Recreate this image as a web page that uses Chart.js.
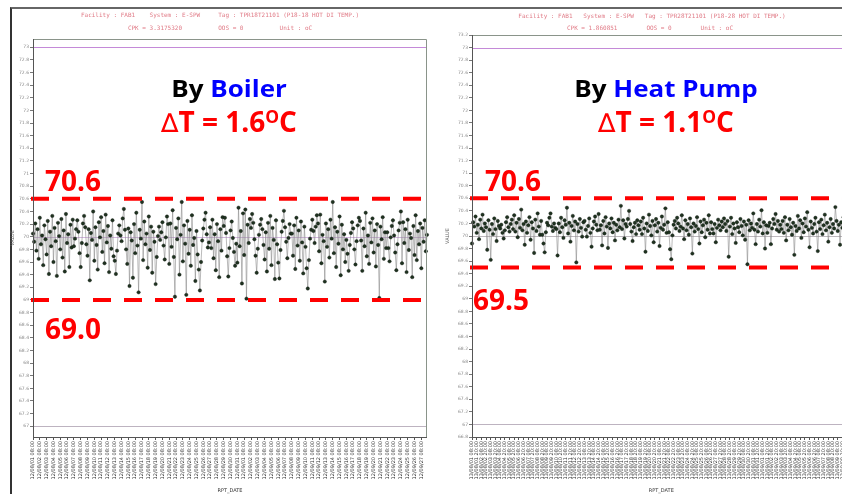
<!DOCTYPE html>
<html>
<head>
<meta charset="utf-8">
<script src="https://cdn.jsdelivr.net/npm/chart.js@4/dist/chart.umd.min.js"></script>
<style>
  html, body { margin: 0; padding: 0; background: #fff; }
  body { width: 842px; height: 494px; overflow: hidden; position: relative; font-family: "Open Sans", "Lato", sans-serif; }
  .frame { position: absolute; left: 10px; top: 7px; width: 840px; height: 490px; border-top: 2px solid #666; border-left: 2px solid #333; }
  canvas { position: absolute; }
  .hdr { position: absolute; font-family: "DejaVu Sans Mono", monospace; font-size: 6px; color: #e07a86; white-space: pre; text-align: center; width: 360px; line-height: 1; }
  .big { position: absolute; font-weight: 700; line-height: 1; text-align: center; width: 300px; white-space: nowrap; }
  .by { font-size: 23px; transform: scaleX(1.13); transform-origin: 150px 0; }
  .dt { font-size: 28px; color: #ff0000; }
  .tri { font-weight: 400; font-family: "DejaVu Sans", sans-serif; font-size: 26px; }
  .lim { position: absolute; font-weight: 700; font-size: 28px; line-height: 1; color: #ff0000; white-space: nowrap; }
  sup { font-size: 62%; vertical-align: 0.5em; line-height: 0; }
</style>
</head>
<body>
<div class="frame"></div>
<canvas id="left" width="425" height="486" style="left:10px; top:8px; width:425px; height:486px;"></canvas>
<canvas id="right" width="410" height="486" style="left:445px; top:8px; width:410px; height:486px;"></canvas>

<div class="hdr" style="left:40px; top:12px;">Facility : FAB1    System : E-SPW     Tag : TPR18T21101 (P18-18 HOT DI TEMP.)</div>
<div class="hdr" style="left:40px; top:25px;">CPK = 3.3175320          OOS = 0          Unit : oC</div>
<div class="hdr" style="left:472px; top:13px;">Facility : FAB1   System : E-SPW   Tag : TPR28T21101 (P18-28 HOT DI TEMP.)</div>
<div class="hdr" style="left:470px; top:25px;">CPK = 1.860851        OOS = 0        Unit : oC</div>

<div class="big by" style="left:79px; top:77px;"><span style="color:#000">By </span><span style="color:#0000ff">Boiler</span></div>
<div class="big dt" style="left:79px; top:107px;"><span class="tri">∆</span>T = 1.6<sup>O</sup>C</div>
<div class="big by" style="left:516px; top:77px;"><span style="color:#000">By </span><span style="color:#0000ff">Heat Pump</span></div>
<div class="big dt" style="left:516px; top:107px;"><span class="tri">∆</span>T = 1.1<sup>O</sup>C</div>

<div class="lim" style="left:45px; top:166px;">70.6</div>
<div class="lim" style="left:45px; top:314px;">69.0</div>
<div class="lim" style="left:485px; top:166px;">70.6</div>
<div class="lim" style="left:473px; top:285px;">69.5</div>

<script>
// ---------- DATA ----------
const boilerValues = [
  70.05,69.92,70.21,69.78,70.12,69.65,70.30,69.88,70.02,69.55,70.18,69.96,
  69.72,70.25,69.41,70.08,69.85,70.33,69.60,70.14,69.93,69.38,70.22,70.01,
  69.80,70.28,69.67,70.10,69.45,70.36,69.90,70.04,69.52,70.19,69.83,70.27,
  69.85,69.97,70.12,70.26,70.08,69.74,69.52,69.90,70.21,70.33,70.15,69.88,
  69.70,70.12,69.31,70.06,69.95,70.40,69.62,70.15,69.87,69.48,70.23,69.99,
  70.31,69.76,70.09,69.58,70.35,69.91,70.17,69.44,70.02,69.81,70.26,69.69,
  69.62,69.41,69.78,70.05,70.18,70.02,69.93,70.29,70.44,70.11,69.80,69.57,
  70.13,69.22,70.07,69.94,69.35,70.20,69.74,70.38,69.86,69.12,70.11,69.97,
  70.55,69.63,70.24,69.88,70.05,69.51,70.32,69.79,70.16,69.43,70.08,69.92,
  69.25,69.68,70.01,70.16,69.95,70.07,70.23,69.86,69.64,69.99,70.32,70.20,
  69.57,70.21,69.84,70.42,69.68,69.05,70.14,69.96,70.29,69.40,70.03,70.55,
  69.61,70.18,69.89,69.08,70.25,69.73,70.11,69.54,70.34,69.87,69.98,69.30,
  70.09,69.72,69.48,69.15,69.60,69.94,70.13,70.27,70.38,70.04,69.83,69.91,
  70.15,69.82,70.27,69.66,70.04,69.47,70.20,69.93,69.36,70.12,69.78,70.31,
  70.17,70.30,70.06,69.69,69.37,69.82,70.10,70.24,69.98,69.76,69.54,69.89,
  69.59,70.46,69.85,70.09,69.26,70.37,69.71,70.43,69.02,70.19,69.90,70.28,
  70.14,70.36,70.22,69.96,69.70,69.43,69.81,70.03,70.19,70.28,70.12,69.87,
  69.64,70.07,69.45,70.22,69.81,70.33,69.55,70.14,69.95,69.33,70.26,69.88,
  69.59,69.34,69.79,70.08,70.25,70.41,70.15,69.92,69.66,69.98,70.20,70.05,
  70.05,69.70,70.18,69.49,70.30,69.86,70.10,69.62,70.24,69.91,69.42,70.16,
  69.84,69.50,69.18,69.63,69.97,70.11,70.27,70.09,69.90,70.16,70.34,70.21,
  69.77,70.35,69.58,70.03,69.93,69.29,70.21,69.84,70.12,69.67,70.27,69.97,
  70.55,69.74,70.15,69.52,70.08,69.89,70.32,69.39,70.19,69.80,70.04,69.60,
  69.95,69.73,69.46,69.87,70.06,70.23,70.13,69.80,69.56,69.93,70.18,70.30,
  70.25,69.94,69.46,70.13,69.85,70.38,69.69,70.02,69.57,70.22,69.91,70.29,
  69.75,70.10,69.53,70.20,69.87,69.03,70.16,69.96,70.31,69.65,70.07,69.82,
  70.07,69.82,69.61,69.99,70.17,70.26,70.02,69.75,69.47,69.88,70.10,70.22,
  70.40,69.58,70.23,69.90,70.12,69.44,70.27,69.79,70.05,69.98,69.36,70.17,
  69.71,70.34,69.63,70.09,69.88,70.21,69.50,70.14,69.92,70.26,69.77,70.03
];
const heatPumpValues = [
  69.88,70.22,70.15,70.31,70.05,70.18,69.95,70.26,70.12,70.34,70.08,70.20,
  70.14,69.78,70.25,70.10,69.62,70.19,70.03,70.28,70.11,69.92,70.24,70.16,
  70.12,70.18,70.05,69.96,70.09,70.22,70.30,70.14,70.07,70.19,70.26,70.11,
  70.33,70.07,70.21,69.98,70.27,70.13,70.42,70.09,70.19,69.86,70.23,70.05,
  70.17,70.30,69.94,70.22,70.12,69.73,70.26,70.08,70.36,70.15,70.02,70.24,
  70.02,69.88,69.74,70.06,70.21,70.17,70.29,70.36,70.15,70.08,70.20,70.13,
  70.11,69.69,70.20,70.06,70.29,70.14,69.97,70.25,70.18,70.45,70.04,70.21,
  69.91,70.16,70.32,70.09,70.23,69.58,70.19,70.07,70.27,70.13,69.99,70.22,
  70.24,70.10,69.99,70.16,70.28,70.05,69.83,70.12,70.23,70.31,70.18,70.09,
  70.35,70.10,70.17,69.85,70.24,70.04,70.30,70.15,69.81,70.20,70.12,70.28,
  70.06,70.21,69.93,70.18,70.09,70.26,70.14,70.48,70.11,70.25,69.96,70.19,
  70.15,70.27,70.40,70.19,70.07,69.92,70.14,70.21,70.03,70.25,70.17,70.10,
  70.23,70.03,70.29,70.12,69.75,70.20,70.08,70.34,70.16,70.01,70.24,69.90,
  70.17,70.27,70.07,70.21,69.84,70.13,70.31,70.10,70.18,70.44,70.05,70.22,
  70.06,69.79,69.63,70.01,70.18,70.24,70.12,70.29,70.20,70.08,70.15,70.33,
  70.12,69.95,70.25,70.09,70.19,70.02,70.28,70.14,69.72,70.20,70.07,70.16,
  70.30,70.11,69.88,70.23,70.06,70.17,70.26,69.98,70.21,70.10,70.33,70.04,
  70.22,70.11,70.04,70.19,69.90,70.13,70.26,70.17,70.09,70.23,70.14,70.28,
  70.19,70.08,70.24,69.67,70.15,70.29,70.03,70.20,70.12,69.89,70.22,70.14,
  70.06,70.27,70.16,70.01,70.23,69.94,70.18,69.55,70.25,70.09,70.20,70.13,
  70.36,70.10,69.87,70.19,70.07,70.26,70.15,70.41,70.04,70.22,69.80,70.17,
  70.05,70.16,70.21,69.87,70.12,70.27,70.19,70.35,70.10,70.24,70.07,70.18,
  70.11,70.24,70.05,70.30,69.93,70.18,70.09,70.27,70.14,70.02,70.21,69.70,
  70.16,70.08,70.32,70.12,70.25,69.97,70.20,70.06,70.28,70.15,70.38,70.10,
  69.82,70.23,70.13,70.04,70.19,70.29,70.07,69.76,70.22,70.11,70.26,70.03,
  70.17,70.34,70.09,70.21,69.91,70.14,70.27,70.05,70.19,70.12,70.46,70.24,
  70.08,70.18,69.86,70.22,70.13,70.30,70.02,70.16,69.95,70.25,70.11,70.20
];
const boilerDates = [
  "12/08/01 08:00","12/08/02 08:00","12/08/03 08:00","12/08/04 08:00","12/08/05 08:00","12/08/06 08:00",
  "12/08/07 08:00","12/08/08 08:00","12/08/09 08:00","12/08/10 08:00","12/08/11 08:00","12/08/12 08:00",
  "12/08/13 08:00","12/08/14 08:00","12/08/15 08:00","12/08/16 08:00","12/08/17 08:00","12/08/18 08:00",
  "12/08/19 08:00","12/08/20 08:00","12/08/21 08:00","12/08/22 08:00","12/08/23 08:00","12/08/24 08:00",
  "12/08/25 08:00","12/08/26 08:00","12/08/27 08:00","12/08/28 08:00","12/08/29 08:00","12/08/30 08:00",
  "12/08/31 08:00","12/09/01 08:00","12/09/02 08:00","12/09/03 08:00","12/09/04 08:00","12/09/05 08:00",
  "12/09/06 08:00","12/09/07 08:00","12/09/08 08:00","12/09/09 08:00","12/09/10 08:00","12/09/11 08:00",
  "12/09/12 08:00","12/09/13 08:00","12/09/14 08:00","12/09/15 08:00","12/09/16 08:00","12/09/17 08:00",
  "12/09/18 08:00","12/09/19 08:00","12/09/20 08:00","12/09/21 08:00","12/09/22 08:00","12/09/23 08:00",
  "12/09/24 08:00","12/09/25 08:00","12/09/26 08:00","12/09/27 08:00"
];
const heatPumpDates = [
  "13/08/01 08:00","13/08/01 20:00","13/08/02 08:00","13/08/02 20:00","13/08/03 08:00","13/08/03 20:00",
  "13/08/04 08:00","13/08/04 20:00","13/08/05 08:00","13/08/05 20:00","13/08/06 08:00","13/08/06 20:00",
  "13/08/07 08:00","13/08/07 20:00","13/08/08 08:00","13/08/08 20:00","13/08/09 08:00","13/08/09 20:00",
  "13/08/10 08:00","13/08/10 20:00","13/08/11 08:00","13/08/11 20:00","13/08/12 08:00","13/08/12 20:00",
  "13/08/13 08:00","13/08/13 20:00","13/08/14 08:00","13/08/14 20:00","13/08/15 08:00","13/08/15 20:00",
  "13/08/16 08:00","13/08/16 20:00","13/08/17 08:00","13/08/17 20:00","13/08/18 08:00","13/08/18 20:00",
  "13/08/19 08:00","13/08/19 20:00","13/08/20 08:00","13/08/20 20:00","13/08/21 08:00","13/08/21 20:00",
  "13/08/22 08:00","13/08/22 20:00","13/08/23 08:00","13/08/23 20:00","13/08/24 08:00","13/08/24 20:00",
  "13/08/25 08:00","13/08/25 20:00","13/08/26 08:00","13/08/26 20:00","13/08/27 08:00","13/08/27 20:00",
  "13/08/28 08:00","13/08/28 20:00","13/08/29 08:00","13/08/29 20:00","13/08/30 08:00","13/08/30 20:00",
  "13/08/31 08:00","13/08/31 20:00","13/09/01 08:00","13/09/01 20:00","13/09/02 08:00","13/09/02 20:00",
  "13/09/03 08:00","13/09/03 20:00","13/09/04 08:00","13/09/04 20:00","13/09/05 08:00","13/09/05 20:00",
  "13/09/06 08:00","13/09/06 20:00","13/09/07 08:00","13/09/07 20:00","13/09/08 08:00","13/09/08 20:00",
  "13/09/09 08:00","13/09/09 20:00","13/09/10 08:00"
];
const boilerYTicks = [67,67.2,67.4,67.6,67.8,68,68.2,68.4,68.6,68.8,69,69.2,69.4,69.6,69.8,70,70.2,70.4,70.6,70.8,71,71.2,71.4,71.6,71.8,72,72.2,72.4,72.6,72.8,73];
const heatPumpYTicks = [66.8,67,67.2,67.4,67.6,67.8,68,68.2,68.4,68.6,68.8,69,69.2,69.4,69.6,69.8,70,70.2,70.4,70.6,70.8,71,71.2,71.4,71.6,71.8,72,72.2,72.4,72.6,72.8,73,73.2];
const specLimits = [73, 67];
const targetValue = 70;
const boilerBand = [70.6, 69.0];
const heatPumpBand = [70.6, 69.5];

// ---------- PLUGIN ----------
const refLines = {
  id: 'refLines',
  beforeDatasetsDraw(chart, args, o) {
    const { ctx, chartArea: a, scales: { y } } = chart;
    ctx.save();
    ctx.lineWidth = 1;
    o.spec.forEach((v, i) => {
      const py = Math.round(y.getPixelForValue(v)) + 0.5;
      ctx.strokeStyle = i === 0 ? '#c48ad8' : '#bdb3c0';
      ctx.beginPath(); ctx.moveTo(a.left, py); ctx.lineTo(a.right, py); ctx.stroke();
    });
    const cy = Math.round(y.getPixelForValue(o.target)) + 0.5;
    ctx.strokeStyle = o.centerColor;
    ctx.beginPath(); ctx.moveTo(a.left, cy); ctx.lineTo(a.right, cy); ctx.stroke();
    ctx.restore();
  },
  afterDatasetsDraw(chart, args, o) {
    const { ctx, chartArea: a, scales: { y } } = chart;
    ctx.save();
    ctx.strokeStyle = '#ff0000';
    ctx.lineWidth = 4;
    ctx.setLineDash([18, 13]);
    o.band.forEach(v => {
      const py = y.getPixelForValue(v);
      ctx.beginPath(); ctx.moveTo(a.left - 2, py); ctx.lineTo(a.right, py); ctx.stroke();
    });
    ctx.restore();
  },
  afterDraw(chart, args, o) {
    const { ctx, chartArea: a } = chart;
    ctx.save();
    ctx.strokeStyle = '#8a948a';
    ctx.lineWidth = 1;
    ctx.beginPath();
    ctx.moveTo(a.left + 0.5, a.top + 0.5); ctx.lineTo(a.right - 0.5, a.top + 0.5);
    ctx.lineTo(a.right - 0.5, a.bottom); ctx.stroke();
    ctx.strokeStyle = '#555';
    ctx.beginPath(); ctx.moveTo(a.left + 0.5, a.top); ctx.lineTo(a.left + 0.5, a.bottom + 0.5); ctx.lineTo(a.right, a.bottom + 0.5); ctx.stroke();
    ctx.restore();
  }
};

function makeChart(id, values, dates, step, yTicks, yMin, yMax, yWidth, padTop, padRight, band, centerColor) {
  const labels = values.map((_, i) => (i % step === 0 && dates[i / step]) ? dates[i / step] : '');
  return new Chart(document.getElementById(id), {
    type: 'line',
    data: {
      labels,
      datasets: [{
        data: values,
        borderColor: '#8c8c8c',
        borderWidth: 0.6,
        pointRadius: 1.7,
        pointBackgroundColor: '#1f3320',
        pointBorderColor: '#0c140c',
        pointBorderWidth: 0.4,
        tension: 0
      }]
    },
    options: {
      responsive: false,
      devicePixelRatio: 1,
      animation: false,
      layout: { padding: { top: padTop, right: padRight, left: 0, bottom: 0 } },
      plugins: {
        legend: { display: false },
        tooltip: { enabled: false },
        refLines: { spec: specLimits, target: targetValue, band, centerColor }
      },
      scales: {
        x: {
          type: 'category',
          offset: false,
          grid: { display: true, drawOnChartArea: false, tickLength: 3, color: '#555' },
          border: { display: false },
          ticks: {
            autoSkip: false, minRotation: 90, maxRotation: 90, padding: 1,
            font: { size: 5, family: 'DejaVu Sans' }, color: '#333',
            callback: function (v, i) { const l = this.getLabelForValue(v); return l === '' ? null : l; }
          },
          title: { display: true, text: 'RPT_DATE', font: { size: 5, family: 'DejaVu Sans' }, color: '#333', padding: 0 },
          afterFit: s => { s.height = 57; }
        },
        y: {
          type: 'linear', min: yMin, max: yMax,
          grid: { display: true, drawOnChartArea: false, tickLength: 3, color: '#777' },
          border: { display: false },
          afterBuildTicks: s => { s.ticks = yTicks.map(v => ({ value: v })); },
          ticks: {
            font: { size: 4.5, family: 'DejaVu Sans' }, color: '#8a8a8a', padding: 1,
            callback: v => String(Math.round(v * 10) / 10)
          },
          title: { display: true, text: 'VALUE', font: { size: 5, family: 'DejaVu Sans' }, color: '#666', padding: 0 },
          afterFit: s => { s.width = yWidth; }
        }
      }
    },
    plugins: [refLines]
  });
}

makeChart('left', boilerValues, boilerDates, 6, boilerYTicks, 66.83, 73.13, 23, 31, 8, boilerBand, '#d3b6df');
makeChart('right', heatPumpValues, heatPumpDates, 4, heatPumpYTicks, 66.8, 73.2, 27, 27, 0, heatPumpBand, '#bdb8bd');
</script>
</body>
</html>
